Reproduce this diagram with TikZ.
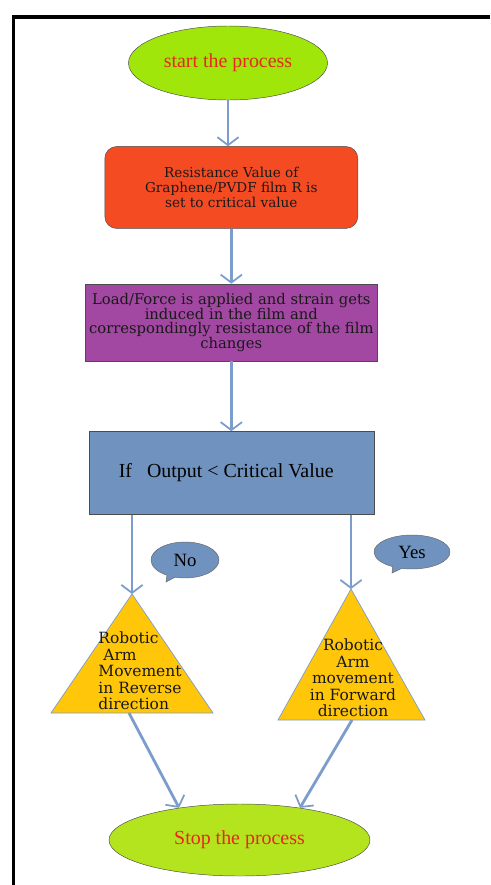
\documentclass[tikz,border=0pt]{standalone}
\usepackage{fontspec}
\setmainfont{Liberation Serif}
\newfontfamily\boxfont{DejaVu Serif}
\usepackage{tikz}
\usetikzlibrary{shapes,shapes.callouts,arrows.meta,positioning,calc}
\definecolor{startgreen}{RGB}{160,230,10}
\definecolor{stopgreen}{RGB}{180,228,30}
\definecolor{setred}{RGB}{245,75,35}
\definecolor{loadpurple}{RGB}{162,72,162}
\definecolor{ifblue}{RGB}{112,146,190}
\definecolor{armyellow}{RGB}{255,198,10}
\definecolor{flowblue}{RGB}{124,156,204}
\definecolor{textred}{RGB}{230,40,30}

\begin{document}
\begin{tikzpicture}[x=0.03cm, y=-0.03cm,
        terminal/.style={draw=black!70, ellipse, inner sep=0pt, text=textred, font=\fontsize{17}{20}\selectfont},
        block/.style={draw=black!70, rectangle, align=center, text=black!90, font=\boxfont\fontsize{11.6}{12.8}\selectfont},
        decision/.style={draw=black!70, rectangle, fill=ifblue},
        bubble/.style={draw=black!60, ellipse callout, fill=ifblue, inner sep=0pt, font=\fontsize{16}{19}\selectfont},
        armtri/.style={draw=flowblue, fill=armyellow, line width=0.6pt},
        armtext/.style={font=\boxfont\fontsize{13.2}{14}\selectfont, text=black!90},
        flow/.style={-{Straight Barb[length=2.4mm,width=6.4mm,line width=1.5pt]}, line width=2.4pt, color=flowblue}
    ]
        \useasboundingbox (0,0) rectangle (490,885);
        \draw [line width=2.6pt] (13.5,885) -- (13.5,17) -- (490,17);

        \node [terminal, fill=startgreen, minimum width=5.97cm, minimum height=2.22cm] (start) at (228,63) {start the process};
        \node [block, below=1.38cm of start, xshift=0.1cm, fill=setred, rounded corners=0.36cm,
               minimum width=7.59cm, minimum height=2.46cm] (set) {Resistance Value of\\Graphene/PVDF film R is\\set to critical value};
        \node [block, below=1.65cm of set, fill=loadpurple, minimum width=8.67cm, minimum height=2.31cm,
               font=\boxfont\fontsize{12.6}{12.6}\selectfont] (load)
              {Load/Force is applied and strain gets\\induced in the film and\\correspondingly resistance of the film\\changes};
        \node [decision, below=2.1cm of load, minimum width=8.55cm, minimum height=2.49cm] (check) {};
        \node [anchor=west, inner sep=0pt] (cond) at ($(check.west)+(0.9cm,0)$) {\fontsize{17}{20}\selectfont If\ \ \ Output < Critical Value};

        % robotic arm triangles
        \coordinate (revtop) at (132,594);
        \coordinate (revbot) at (129,713);
        \coordinate (fwdtop) at (351,589);
        \coordinate (fwdbot) at (352,720);
        \draw [armtri] (revtop) -- (213,713) -- (51,713) -- cycle;
        \draw [armtri] (fwdtop) -- (425,720) -- (278,720) -- cycle;
        \node [armtext, align=left] (rev) at (140,671) {Robotic\\\ Arm\\Movement\\in Reverse\\direction};
        \node [armtext, align=center] (fwd) at (353,678) {Robotic\\Arm\\movement\\in Forward\\direction};

        \node [bubble, minimum width=2.04cm, minimum height=1.08cm, callout absolute pointer={(166,582)}] (no) at (185,560) {No};
        \node [bubble, minimum width=2.28cm, minimum height=1.02cm, callout absolute pointer={(392,573)}] (yes) at (412,552) {Yes};

        \node [terminal, fill=stopgreen, minimum width=7.83cm, minimum height=2.16cm] (stop) at (239.5,840) {Stop the process};

        \draw [flow] (start.south) -- (start.south |- set.north);
        \draw [flow] (set.south) -- (load.north);
        \draw [flow] (load.south) -- (check.north);
        \draw [flow] (check.south -| revtop) -- (revtop);
        \draw [flow] (check.south -| fwdtop) -- (fwdtop);
        \draw [flow] (revbot) -- (stop.152);
        \draw [flow] (fwdbot) -- (stop.28);
    \end{tikzpicture}
\end{document}
